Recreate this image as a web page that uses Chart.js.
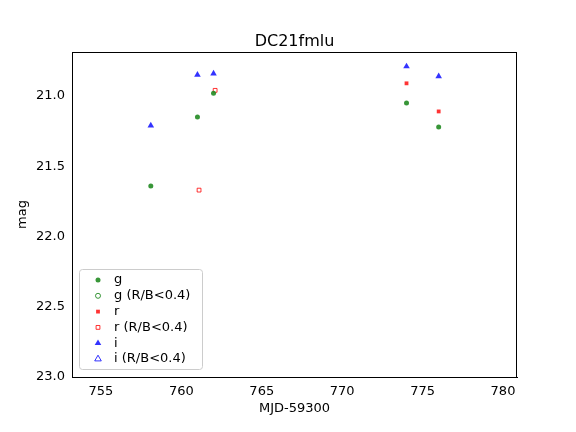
<!DOCTYPE html>
<html><head>
<script src="https://cdn.jsdelivr.net/npm/chart.js@4"></script>
<style>body{margin:0;background:#fff}#wrap{width:576px;height:432px}</style>
</head><body>
<div id="wrap"><canvas id="c" width="576" height="432"></canvas></div>
<script>
// Data
const gX = [758.1, 761.0, 762.0, 774.0, 776.0];
const gY = [21.64, 21.15, 20.98, 21.05, 21.22];
const rX = [774.0, 776.0];
const rY = [20.91, 21.11];
const rWeakX = [761.1, 762.1];
const rWeakY = [21.67, 20.96];
const iX = [758.1, 761.0, 762.0, 774.0, 776.0];
const iY = [21.21, 20.85, 20.84, 20.79, 20.86];
const xTicks = [755, 760, 765, 770, 775, 780];
const yTicks = [21.0, 21.5, 22.0, 22.5, 23.0];

const G = 'rgba(34,139,34,0.9)', R = 'rgba(255,0,0,0.8)', B = 'rgba(0,0,255,0.8)';
const pts = (xs, ys) => xs.map((x, i) => ({x: x, y: ys[i]}));

const datasets = [
  {label: 'g', data: pts(gX, gY), pointStyle: 'circle', radius: 2.5, backgroundColor: G, borderColor: G, borderWidth: 0},
  {label: 'g (R/B<0.4)', data: [], pointStyle: 'circle', radius: 2.5, backgroundColor: 'rgba(0,0,0,0)', borderColor: G, borderWidth: 1},
  {label: 'r', data: pts(rX, rY), pointStyle: 'rect', radius: 2.7, backgroundColor: R, borderColor: R, borderWidth: 0},
  {label: 'r (R/B<0.4)', data: pts(rWeakX, rWeakY), pointStyle: 'rect', radius: 2.7, backgroundColor: '#fff', borderColor: R, borderWidth: 1},
  {label: 'i', data: pts(iX, iY), pointStyle: 'triangle', radius: 3.8, backgroundColor: B, borderColor: B, borderWidth: 0},
  {label: 'i (R/B<0.4)', data: [], pointStyle: 'triangle', radius: 3.8, backgroundColor: 'rgba(0,0,0,0)', borderColor: B, borderWidth: 1}
];

const decor = {
  id: 'decor',
  afterDraw(chart) {
    const ctx = chart.ctx, a = chart.chartArea;
    ctx.save();
    // frame
    ctx.strokeStyle = '#000'; ctx.lineWidth = 1;
    ctx.strokeRect(a.left + 0.5, a.top + 0.5, a.right - a.left - 1, a.bottom - a.top);
    ctx.fillStyle = '#000';
    ctx.font = '16px "DejaVu Sans"';
    ctx.textAlign = 'center';
    ctx.textBaseline = 'alphabetic';
    ctx.fillText('DC21fmlu', (a.left + a.right) / 2, 46);
    ctx.font = '13px "DejaVu Sans"';
    ctx.textBaseline = 'middle';
    ctx.fillText('MJD-59300', (a.left + a.right) / 2, 409);
    ctx.save();
    ctx.translate(23, (a.top + a.bottom) / 2);
    ctx.rotate(-Math.PI / 2);
    ctx.fillText('mag', 0, 0);
    ctx.restore();
    // legend box
    const lx = 79, ly = 269, lw = 123, lh = 100;
    ctx.strokeStyle = '#ccc';
    ctx.fillStyle = 'rgba(255,255,255,0.8)';
    ctx.beginPath(); ctx.roundRect(lx + 0.5, ly + 0.5, lw, lh, 3); ctx.fill(); ctx.stroke();
    ctx.textAlign = 'left';
    chart.data.datasets.forEach((ds, i) => {
      const y = ly + 11 + i * 15.8;
      ctx.save();
      ctx.fillStyle = ds.backgroundColor; ctx.strokeStyle = ds.borderColor; ctx.lineWidth = ds.borderWidth || 1;
      Chart.helpers.drawPoint(ctx, {pointStyle: ds.pointStyle, radius: ds.radius, borderWidth: ds.borderWidth, rotation: 0}, 98, y);
      ctx.restore();
      ctx.fillStyle = '#000';
      ctx.fillText(ds.label, 114, y);
    });
    ctx.restore();
  }
};

new Chart(document.getElementById('c'), {
  type: 'scatter',
  data: {datasets: datasets},
  options: {
    responsive: false, animation: false,
    layout: {padding: {left: 0, right: 59, top: 52, bottom: 0}},
    plugins: {legend: {display: false}, tooltip: {enabled: false}},
    scales: {
      x: {
        min: 753.2, max: 780.87,
        afterFit: s => { s.height = 55; },
        afterBuildTicks: s => { s.ticks = xTicks.map(v => ({value: v})); },
        grid: {display: false, tickLength: 4},
        border: {color: '#000'},
        ticks: {color: '#000', font: {size: 13, family: 'DejaVu Sans'}, maxRotation: 0}
      },
      y: {
        reverse: true, min: 20.687, max: 23.0,
        afterFit: s => { s.width = 72; },
        afterBuildTicks: s => { s.ticks = yTicks.map(v => ({value: v})); },
        grid: {display: false, tickLength: 4},
        border: {color: '#000'},
        ticks: {color: '#000', font: {size: 13, family: 'DejaVu Sans'}, callback: v => v.toFixed(1)}
      }
    }
  },
  plugins: [decor]
});
</script>
</body></html>
